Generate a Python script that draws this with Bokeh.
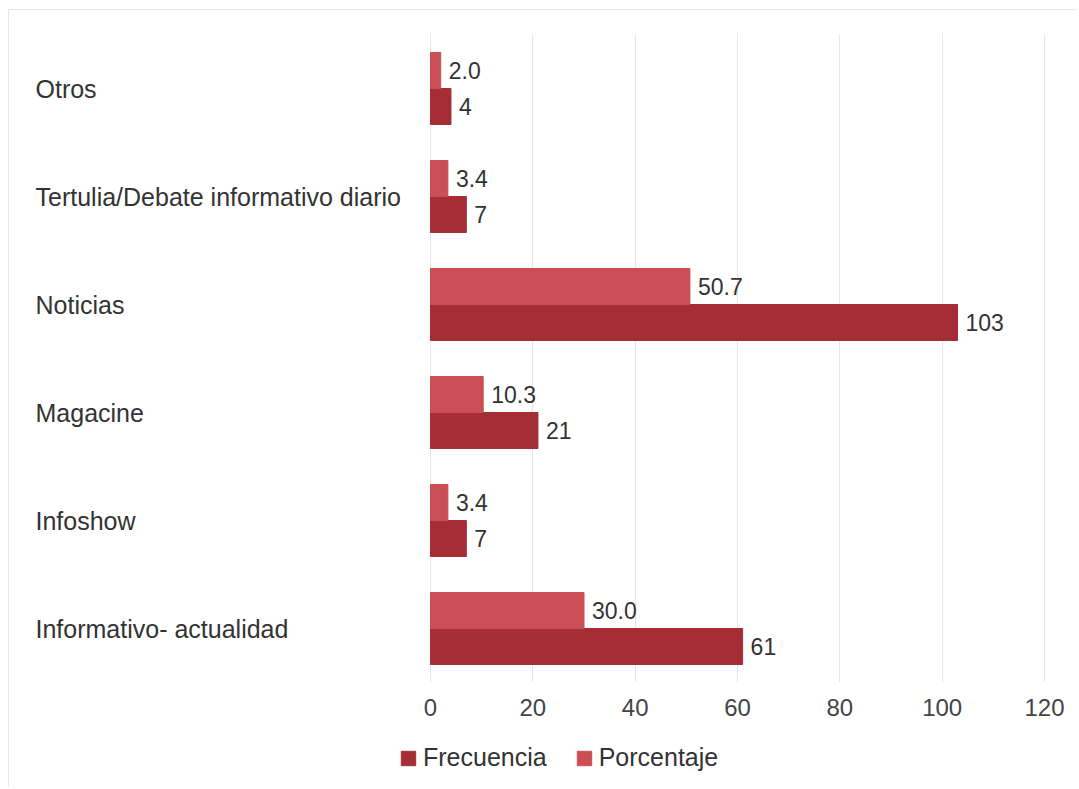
from bokeh.plotting import figure
from bokeh.models import ColumnDataSource, LabelSet, Legend, LegendItem, FixedTicker, Range1d
from bokeh.core.properties import value
from bokeh.embed import file_html
from bokeh.resources import INLINE

categories = ["Otros", "Tertulia/Debate informativo diario", "Noticias",
              "Magacine", "Infoshow", "Informativo- actualidad"]
frecuencia = [4, 7, 103, 21, 7, 61]
porcentaje = [2.0, 3.4, 50.7, 10.3, 3.4, 30.0]
x_ticks = [0, 20, 40, 60, 80, 100, 120]

DARK = "#A52E36"
LIGHT = "#CB4E54"
FONT = "Liberation Sans"

# layout (pixels)
W, H = 1069, 778
MB_TOP = 24
ZERO_PX = 421                 # canvas x of the value 0
PX_PER_X = 614 / 120          # horizontal scale of the value axis
PX_PER_CAT = 108              # vertical space per category
XMIN = -ZERO_PX / PX_PER_X
XMAX = XMIN + W / PX_PER_X

n = len(categories)
YMAX = n
YMIN = YMAX - (H - MB_TOP) / PX_PER_CAT   # room below for ticks + legend

centers = [n - 1 - i + 0.5 for i in range(n)]
bar_h = 1 / 3

src = ColumnDataSource(dict(
    cat=categories,
    cat_x=[XMIN] * n,
    yc=centers,
    y_f=[c - bar_h / 2 for c in centers],
    y_p=[c + bar_h / 2 for c in centers],
    f=frecuencia,
    p=porcentaje,
    f_txt=[str(v) for v in frecuencia],
    p_txt=[f"{v:.1f}" for v in porcentaje],
))

p = figure(width=W, height=H, output_backend="svg", toolbar_location=None,
           x_range=Range1d(XMIN, XMAX), y_range=Range1d(YMIN, YMAX), y_axis_type=None,
           min_border_left=0, min_border_right=0,
           min_border_top=MB_TOP, min_border_bottom=0)
p.margin = (9, 0, 0, 8)
p.styles = {"border-left": "1px solid #e8e8e8", "border-top": "1px solid #e8e8e8"}
p.outline_line_color = None
p.background_fill_color = "white"
p.border_fill_color = "white"

r_f = p.hbar(y="y_f", right="f", left=0, height=bar_h, source=src,
             fill_color=DARK, line_color=DARK)
r_p = p.hbar(y="y_p", right="p", left=0, height=bar_h, source=src,
             fill_color=LIGHT, line_color=LIGHT)

p.text(x="cat_x", y="yc", text="cat", source=src, x_offset=26,
       text_font=value(FONT), text_font_size="25px", text_color="#333333",
       text_align="left", text_baseline="middle")

p.xaxis.fixed_location = 0
p.xaxis.ticker = FixedTicker(ticks=x_ticks)
p.xaxis.axis_line_color = None
p.xaxis.major_tick_line_color = None
p.xaxis.minor_tick_line_color = None
p.xaxis.major_label_text_font = FONT
p.xaxis.major_label_text_font_size = "24px"
p.xaxis.major_label_text_color = "#444444"
p.xaxis.major_label_standoff = 10
p.xgrid.ticker = FixedTicker(ticks=x_ticks)
p.xgrid.cross_bounds = (0, n)
p.xgrid.grid_line_color = "#e6e6e6"
p.ygrid.grid_line_color = None

f_labels = LabelSet(x="f", y="y_f", text="f_txt", source=src, x_offset=8,
                    text_font=value(FONT), text_font_size="23px", text_color="#333333",
                    text_align="left", text_baseline="middle")
p_labels = LabelSet(x="p", y="y_p", text="p_txt", source=src, x_offset=8,
                    text_font=value(FONT), text_font_size="23px", text_color="#333333",
                    text_align="left", text_baseline="middle")
p.add_layout(f_labels)
p.add_layout(p_labels)

legend = Legend(items=[LegendItem(label="Frecuencia", renderers=[r_f]),
                       LegendItem(label="Porcentaje", renderers=[r_p])],
                orientation="horizontal", location=(390, 16),
                glyph_width=18, glyph_height=18, label_standoff=6, spacing=28,
                padding=0, margin=0, border_line_color=None,
                background_fill_alpha=0,
                label_text_font=FONT, label_text_font_size="25px",
                label_text_color="#333333")
p.add_layout(legend, "center")

open("out.html", "w").write(file_html(p, INLINE))
